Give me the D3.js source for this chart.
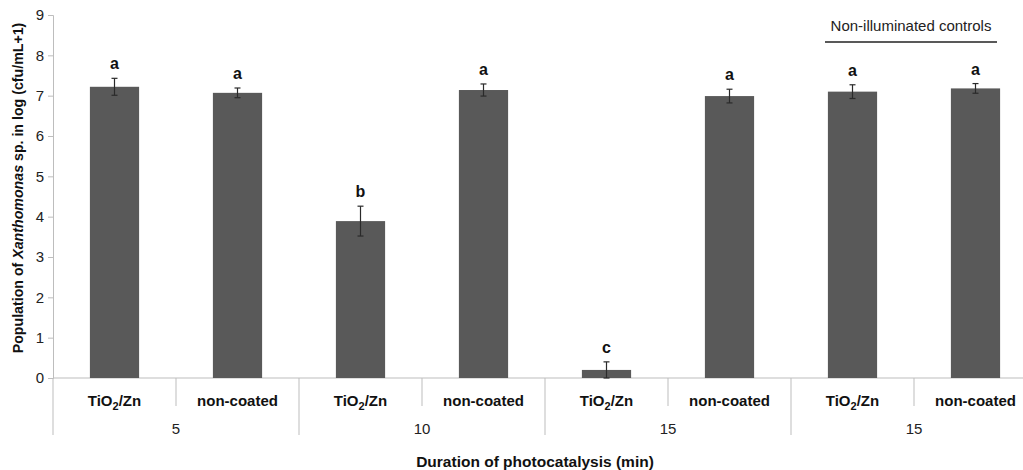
<!DOCTYPE html>
<html>
<head>
<meta charset="utf-8">
<script src="https://cdn.jsdelivr.net/npm/d3@7"></script>
<style>
  body { margin: 0; background: #fff; }
  svg { display: block; overflow: hidden; }
  text { font-family: "Liberation Sans", Arial, sans-serif; }
</style>
</head>
<body>
<div id="chart"></div>
<script>
// values
var treatments = ["TiO2/Zn", "non-coated", "TiO2/Zn", "non-coated", "TiO2/Zn", "non-coated", "TiO2/Zn", "non-coated"];
var durations = ["5", "10", "15", "15"];
var means = [7.22, 7.07, 3.89, 7.14, 0.20, 6.99, 7.10, 7.18];
var errors = [0.21, 0.12, 0.37, 0.15, 0.20, 0.17, 0.17, 0.12];
var letters = ["a", "a", "b", "a", "c", "a", "a", "a"];
var yTicks = [0, 1, 2, 3, 4, 5, 6, 7, 8, 9];

var width = 1023, height = 470;
var mLeft = 53, mRight = 1037, mTop = 15, mBottom = 378;

var svg = d3.select("#chart").append("svg")
    .attr("width", width)
    .attr("height", height);

var idx = d3.range(means.length);

var x = d3.scaleBand()
    .domain(idx)
    .range([mLeft, mRight])
    .paddingInner(0.6)
    .paddingOuter(0.3);

var y = d3.scaleLinear()
    .domain([0, 9])
    .range([mBottom, mTop]);

var axisColor = "#bdbdbd";

// y axis
var yAxis = svg.append("g")
    .attr("transform", "translate(" + mLeft + ",0)")
    .call(d3.axisLeft(y).tickValues(yTicks).tickSize(5).tickPadding(4));
yAxis.select(".domain").attr("stroke", axisColor);
yAxis.selectAll(".tick line").attr("stroke", axisColor);
yAxis.selectAll(".tick text")
    .attr("font-size", 15)
    .attr("font-family", "'Liberation Sans', Arial, sans-serif")
    .attr("fill", "#222");

// x axis baseline
svg.append("line")
    .attr("x1", mLeft).attr("x2", mRight)
    .attr("y1", mBottom).attr("y2", mBottom)
    .attr("stroke", axisColor);

// short ticks between treatments, long ticks between groups
var step = (mRight - mLeft) / means.length;
d3.range(means.length + 1).forEach(function(i) {
    var xx = mLeft + i * step;
    svg.append("line")
        .attr("x1", xx).attr("x2", xx)
        .attr("y1", mBottom)
        .attr("y2", i % 2 === 0 ? 435 : 406)
        .attr("stroke", axisColor);
});

// bars
svg.selectAll("rect.bar")
    .data(idx)
    .enter().append("rect")
    .attr("class", "bar")
    .attr("x", d => x(d))
    .attr("width", x.bandwidth())
    .attr("y", d => y(means[d]))
    .attr("height", d => y(0) - y(means[d]))
    .attr("fill", "#595959");

// error bars
var eb = svg.selectAll("g.err")
    .data(idx)
    .enter().append("g")
    .attr("class", "err")
    .attr("stroke", "#2a2a2a")
    .attr("stroke-width", 1.2);
eb.append("line")
    .attr("x1", d => x(d) + x.bandwidth() / 2)
    .attr("x2", d => x(d) + x.bandwidth() / 2)
    .attr("y1", d => y(means[d] + errors[d]))
    .attr("y2", d => y(means[d] - errors[d]));
eb.append("line")
    .attr("x1", d => x(d) + x.bandwidth() / 2 - 3)
    .attr("x2", d => x(d) + x.bandwidth() / 2 + 3)
    .attr("y1", d => y(means[d] + errors[d]))
    .attr("y2", d => y(means[d] + errors[d]));
eb.append("line")
    .attr("x1", d => x(d) + x.bandwidth() / 2 - 3)
    .attr("x2", d => x(d) + x.bandwidth() / 2 + 3)
    .attr("y1", d => y(means[d] - errors[d]))
    .attr("y2", d => y(means[d] - errors[d]));

// significance letters
svg.selectAll("text.letter")
    .data(idx)
    .enter().append("text")
    .attr("class", "letter")
    .attr("x", d => x(d) + x.bandwidth() / 2)
    .attr("y", d => y(means[d] + errors[d]) - 9)
    .attr("text-anchor", "middle")
    .attr("font-size", 16)
    .attr("font-weight", "bold")
    .attr("fill", "#111")
    .text(d => letters[d]);

// treatment labels with subscript
svg.selectAll("text.treat")
    .data(idx)
    .enter().append("text")
    .attr("class", "treat")
    .attr("x", d => x(d) + x.bandwidth() / 2)
    .attr("y", 406)
    .attr("text-anchor", "middle")
    .attr("font-size", 15)
    .attr("font-weight", "bold")
    .attr("fill", "#111")
    .each(function(d) {
        var t = d3.select(this);
        var s = treatments[d];
        if (s.indexOf("TiO2") === 0) {
            t.append("tspan").text("TiO");
            t.append("tspan").attr("dy", 4).attr("font-size", 11).text("2");
            t.append("tspan").attr("dy", -4).text(s.slice(4));
        } else {
            t.text(s);
        }
    });

// duration group labels
svg.selectAll("text.dur")
    .data(durations)
    .enter().append("text")
    .attr("class", "dur")
    .attr("x", (d, i) => mLeft + (i * 2 + 1) * step)
    .attr("y", 434)
    .attr("text-anchor", "middle")
    .attr("font-size", 15)
    .attr("fill", "#222")
    .text(d => d);

// axis titles
svg.append("text")
    .attr("x", 535)
    .attr("y", 467)
    .attr("text-anchor", "middle")
    .attr("font-size", 15.5)
    .attr("font-weight", "bold")
    .attr("fill", "#111")
    .text("Duration of photocatalysis (min)");

var yt = svg.append("text")
    .attr("transform", "translate(23,188) rotate(-90)")
    .attr("text-anchor", "middle")
    .attr("font-size", 14.2)
    .attr("font-weight", "bold")
    .attr("fill", "#111");
yt.append("tspan").text("Population of ");
yt.append("tspan").attr("font-style", "italic").text("Xanthomonas");
yt.append("tspan").text(" sp. in log (cfu/mL+1)");

// non-illuminated controls bracket
svg.append("text")
    .attr("x", 911)
    .attr("y", 31)
    .attr("text-anchor", "middle")
    .attr("font-size", 15)
    .attr("fill", "#222")
    .text("Non-illuminated controls");
svg.append("line")
    .attr("x1", 825).attr("x2", 997)
    .attr("y1", 42).attr("y2", 42)
    .attr("stroke", "#222")
    .attr("stroke-width", 1.6);
</script>
</body>
</html>
